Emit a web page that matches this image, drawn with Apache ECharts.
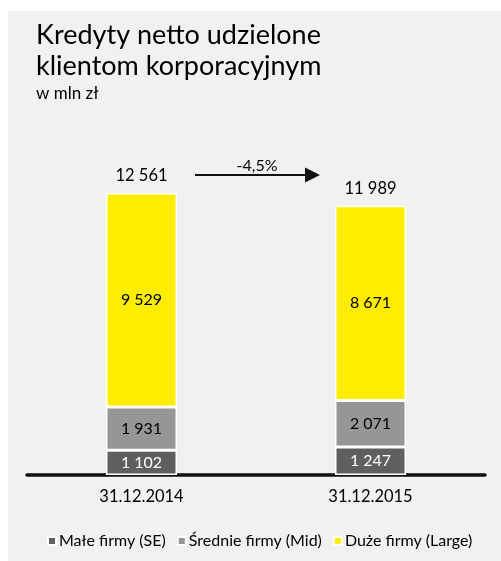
<!DOCTYPE html>
<html>
<head>
<meta charset="utf-8">
<script src="https://cdn.jsdelivr.net/npm/echarts@6/dist/echarts.min.js"></script>
<style>
  html, body { margin: 0; padding: 0; background: #ffffff; }
  #panel { position: absolute; left: 8px; top: 11px; width: 493px; height: 550px; background: #f1f1f1; }
  #chart { position: absolute; left: 0; top: 0; width: 501px; height: 561px; }
</style>
</head>
<body>
<div id="panel"></div>
<div id="chart"></div>
<script>
// Net corporate loans, PLN m
const categories = ['31.12.2014', '31.12.2015'];
const smallFirms = [1102, 1247];   // Małe firmy (SE)
const midFirms = [1931, 2071];     // Średnie firmy (Mid)
const largeFirms = [9529, 8671];   // Duże firmy (Large)
const totals = [12561, 11989];
const changeLabel = '-4,5%';

const FONT = 'Lato';
const INK = '#000000';
const fmt = v => String(v).replace(/\B(?=(\d{3})+(?!\d))/g, ' ');

const chart = echarts.init(document.getElementById('chart'), null, { renderer: 'canvas' });

function barSeries(name, data, color, labelColor) {
  return {
    name: name,
    type: 'bar',
    stack: 'total',
    data: data,
    barWidth: 71,
    itemStyle: { color: color, borderColor: '#ffffff', borderWidth: 1.5 },
    label: {
      show: true,
      position: 'inside',
      color: labelColor,
      fontFamily: FONT,
      fontSize: 16,
      formatter: p => fmt(p.value)
    },
    emphasis: { disabled: true }
  };
}

chart.setOption({
  backgroundColor: 'transparent',
  animation: false,
  title: {
    text: 'Kredyty netto udzielone\nklientom korporacyjnym',
    subtext: 'w mln zł',
    left: 31,
    top: 15,
    itemGap: 3,
    textStyle: { fontFamily: FONT, fontSize: 27, fontWeight: 'normal', color: INK, lineHeight: 31 },
    subtextStyle: { fontFamily: FONT, fontSize: 17, color: INK }
  },
  legend: {
    left: 42,
    top: 528,
    itemWidth: 8,
    itemHeight: 8,
    itemGap: 11,
    icon: 'rect',
    textStyle: { fontFamily: FONT, fontSize: 16, color: INK, padding: [0, 0, 0, -2] },
    data: ['Małe firmy (SE)', 'Średnie firmy (Mid)', 'Duże firmy (Large)']
  },
  grid: { left: 27, width: 458, top: 160.7, bottom: 86 },
  xAxis: {
    type: 'category',
    data: categories,
    axisLine: { show: true, lineStyle: { color: '#111111', width: 3.5 } },
    axisTick: { show: false },
    axisLabel: { fontFamily: FONT, fontSize: 16.5, color: INK, margin: 13 }
  },
  yAxis: {
    type: 'value',
    min: 0,
    max: 14000,
    show: false,
    splitLine: { show: false }
  },
  series: [
    barSeries('Małe firmy (SE)', smallFirms, '#5f5f5f', '#ffffff'),
    barSeries('Średnie firmy (Mid)', midFirms, '#969696', INK),
    barSeries('Duże firmy (Large)', largeFirms, '#ffed00', INK),
    {
      name: 'Suma',
      type: 'scatter',
      data: totals,
      symbolSize: 0,
      silent: true,
      itemStyle: { opacity: 1 },
      label: {
        show: true,
        position: 'top',
        distance: 9,
        color: INK,
        fontFamily: FONT,
        fontSize: 16.5,
        formatter: p => fmt(p.value)
      }
    }
  ],
  graphic: [
    {
      type: 'line',
      shape: { x1: 195, y1: 175, x2: 308, y2: 175 },
      style: { stroke: '#111111', lineWidth: 2 }
    },
    {
      type: 'polygon',
      shape: { points: [[305, 167.5], [320, 175], [305, 182.5]] },
      style: { fill: '#111111' }
    },
    {
      type: 'text',
      x: 257,
      y: 166,
      style: {
        text: changeLabel,
        align: 'center',
        verticalAlign: 'middle',
        fontFamily: FONT,
        fontSize: 16,
        fill: INK
      }
    }
  ]
});
</script>
</body>
</html>
